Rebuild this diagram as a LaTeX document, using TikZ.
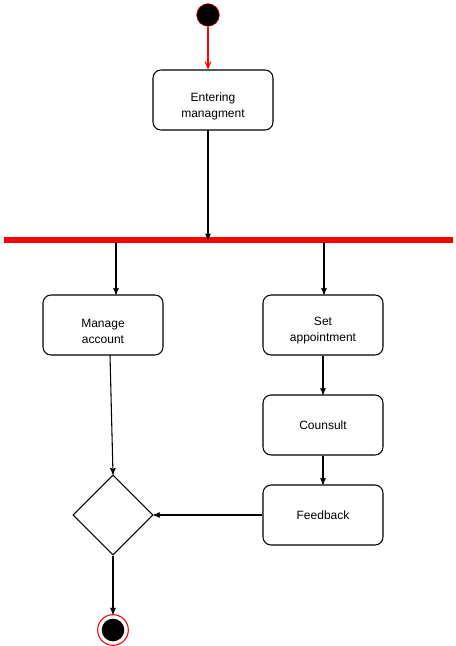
\documentclass[tikz,border=0pt]{standalone}
\usepackage{fontspec}
\setmainfont{Liberation Sans}
\usepackage{xcolor}
\usepackage{tikz}
\usetikzlibrary{shapes,arrows}
\usetikzlibrary{shapes.geometric}

\tikzset{
  act/.style={rectangle,rounded corners=6pt,draw,line width=0.8pt,fill=white,minimum width=90pt,minimum height=45pt,align=center,font=\fontsize{9pt}{12pt}\selectfont},
  twoline/.style={act,label={[align=center,font=\fontsize{9pt}{12pt}\selectfont,yshift=-4.5pt]center:#1}},
  flow/.style={line width=0.8pt,-stealth'}
}

\begin{document}
\begin{tikzpicture}[x=0.75pt,y=-0.75pt]
\useasboundingbox (0,0) rectangle (456,646);

\node [circle,draw=red,fill=black,inner sep=0,minimum size=17pt] (v1) at (208,15) {};
\node [twoline={Entering\\managment}] (v2) at (213,100) {};
\node [rectangle,fill=red,inner sep=0,minimum width=337pt,minimum height=4pt] (v3) at (228.5,240) {};
\node [twoline={Manage\\account}] (v4) at (103,325) {};
\node [twoline={Set\\appointment}] (v5) at (323,325) {};
\node [act] (v6) at (323,425) {Counsult};
\node [act] (v7) at (323,515) {Feedback};
\node [diamond,draw,line width=0.8pt,fill=white,inner sep=0,minimum width=60pt,minimum height=60pt] (v8) at (113,515) {};
\node [circle,draw=red,line width=0.8pt,fill=white,inner sep=0,minimum size=23pt] (v9) at (113,630) {};
\node [circle,fill=black,inner sep=0,minimum size=17pt] (v10) at (113,630) {};

\coordinate (c1) at (208,130);
\coordinate (c2) at (116,242);
\coordinate (c3) at (324,242);
\coordinate (c4) at (110,355);

\draw [red,line width=0.8pt,-angle 45] (v1) -- (v1 |- v2.north);
\draw [flow] (c1) -- (c1 |- v3);
\draw [flow] (c2) -- (c2 |- v4.north);
\draw [flow] (c3) -- (c3 |- v5.north);
\draw [flow] (c4) -- (v8.north);
\foreach \a/\b in {5/6,6/7}
    \draw [flow] (v\a) -- (v\b);
\draw [flow] (v7) -- (v8.east);
\draw [flow] (v8) -- (v9);

\end{tikzpicture}
\end{document}
